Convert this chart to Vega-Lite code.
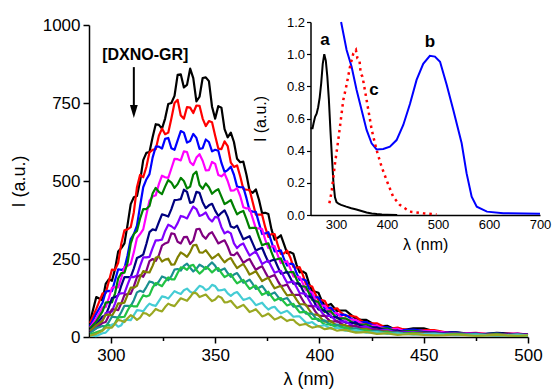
{
  "$schema": "https://vega.github.io/schema/vega-lite/v6.json",
  "width": 439,
  "height": 312,
  "autosize": "none",
  "padding": {"left": 89, "top": 25, "right": 24, "bottom": 55},
  "background": "white",
  "config": {
    "view": {"stroke": null},
    "font": "Liberation Sans",
    "axis": {"domainColor": "black", "tickColor": "black", "labelColor": "black", "titleColor": "black", "grid": false, "labelFont": "Liberation Sans", "titleFont": "Liberation Sans", "titleFontWeight": "normal", "labelOverlap": false, "labelBound": false, "labelFlush": false}
  },
  "datasets": {
    "main": [
      {"x":290,"s1":50,"s2":45,"s3":35,"s4":30,"s5":28,"s6":22,"s7":18,"s8":15,"s9":20,"s10":12,"s11":8,"s12":5,"s13":4},
      {"x":293,"s1":128,"s2":90,"s3":75,"s4":60,"s5":50,"s6":40,"s7":32,"s8":28,"s9":38,"s10":28,"s11":15,"s12":3,"s13":10},
      {"x":296,"s1":118,"s2":140,"s3":110,"s4":95,"s5":82,"s6":66,"s7":55,"s8":45,"s9":52,"s10":35,"s11":22,"s12":12,"s13":20},
      {"x":297.5,"s1":170,"s2":140,"s3":145,"s4":96,"s5":110,"s6":70,"s7":77,"s8":48,"s9":71,"s10":34,"s11":36,"s12":14,"s13":30},
      {"x":299,"s1":185,"s2":178,"s3":148,"s4":125,"s5":112,"s6":95,"s7":80,"s8":68,"s9":72,"s10":48,"s11":38,"s12":25,"s13":30},
      {"x":300.5,"s1":180,"s2":216,"s3":147,"s4":158,"s5":111,"s6":125,"s7":82,"s8":89,"s9":68,"s10":65,"s11":35,"s12":40,"s13":30},
      {"x":302,"s1":218,"s2":215,"s3":182,"s4":160,"s5":140,"s6":128,"s7":108,"s8":88,"s9":85,"s10":64,"s11":45,"s12":42,"s13":43},
      {"x":303.5,"s1":274,"s2":238,"s3":217,"s4":159,"s5":188,"s6":133,"s7":137,"s8":86,"s9":108,"s10":62,"s11":63,"s12":33,"s13":55},
      {"x":305,"s1":285,"s2":300,"s3":215,"s4":190,"s5":205,"s6":165,"s7":140,"s8":108,"s9":108,"s10":80,"s11":64,"s12":38,"s13":52},
      {"x":306.5,"s1":300,"s2":342,"s3":220,"s4":225,"s5":206,"s6":192,"s7":141,"s8":135,"s9":110,"s10":100,"s11":65,"s12":55,"s13":48},
      {"x":308,"s1":360,"s2":345,"s3":262,"s4":228,"s5":238,"s6":192,"s7":168,"s8":138,"s9":135,"s10":100,"s11":85,"s12":55,"s13":60},
      {"x":309.5,"s1":426,"s2":352,"s3":314,"s4":234,"s5":299,"s6":192,"s7":193,"s8":138,"s9":158,"s10":99,"s11":102,"s12":54,"s13":70},
      {"x":311,"s1":448,"s2":400,"s3":330,"s4":272,"s5":330,"s6":220,"s7":192,"s8":162,"s9":158,"s10":118,"s11":98,"s12":70,"s13":64},
      {"x":312.5,"s1":452,"s2":480,"s3":357,"s4":317,"s5":340,"s6":253,"s7":197,"s8":192,"s9":164,"s10":143,"s11":98,"s12":86,"s13":55},
      {"x":314,"s1":500,"s2":520,"s3":420,"s4":330,"s5":380,"s6":258,"s7":228,"s8":198,"s9":192,"s10":148,"s11":117,"s12":85,"s13":62},
      {"x":315.5,"s1":567,"s2":512,"s3":480,"s4":345,"s5":410,"s6":264,"s7":255,"s8":193,"s9":211,"s10":144,"s11":134,"s12":82,"s13":77},
      {"x":317,"s1":590,"s2":545,"s3":505,"s4":392,"s5":410,"s6":298,"s7":255,"s8":212,"s9":208,"s10":160,"s11":130,"s12":96,"s13":75},
      {"x":318.5,"s1":593,"s2":592,"s3":522,"s4":437,"s5":420,"s6":336,"s7":257,"s8":243,"s9":207,"s10":178,"s11":134,"s12":107,"s13":68},
      {"x":320,"s1":640,"s2":600,"s3":575,"s4":450,"s5":460,"s6":345,"s7":285,"s8":250,"s9":228,"s10":175,"s11":158,"s12":102,"s13":78},
      {"x":321.5,"s1":682,"s2":602,"s3":610,"s4":454,"s5":478,"s6":342,"s7":310,"s8":244,"s9":254,"s10":166,"s11":173,"s12":100,"s13":90},
      {"x":323,"s1":680,"s2":645,"s3":610,"s4":490,"s5":465,"s6":368,"s7":310,"s8":262,"s9":258,"s10":178,"s11":168,"s12":115,"s13":85},
      {"x":324.5,"s1":668,"s2":668,"s3":604,"s4":517,"s5":458,"s6":393,"s7":312,"s8":293,"s9":242,"s10":194,"s11":163,"s12":130,"s13":82},
      {"x":326,"s1":700,"s2":650,"s3":635,"s4":512,"s5":482,"s6":390,"s7":340,"s8":300,"s9":248,"s10":190,"s11":178,"s12":128,"s13":96},
      {"x":327.5,"s1":747,"s2":655,"s3":638,"s4":510,"s5":503,"s6":386,"s7":360,"s8":304,"s9":251,"s10":182,"s11":191,"s12":123,"s13":107},
      {"x":329,"s1":750,"s2":700,"s3":605,"s4":540,"s5":495,"s6":410,"s7":355,"s8":332,"s9":232,"s10":195,"s11":185,"s12":135,"s13":102},
      {"x":330.5,"s1":773,"s2":750,"s3":600,"s4":571,"s5":478,"s6":439,"s7":347,"s8":330,"s9":233,"s10":216,"s11":185,"s12":147,"s13":99},
      {"x":332,"s1":840,"s2":760,"s3":630,"s4":570,"s5":490,"s6":440,"s7":365,"s8":305,"s9":255,"s10":218,"s11":205,"s12":142,"s13":112},
      {"x":333.5,"s1":842,"s2":710,"s3":660,"s4":566,"s5":510,"s6":442,"s7":388,"s8":300,"s9":271,"s10":213,"s11":223,"s12":138,"s13":124},
      {"x":335,"s1":800,"s2":700,"s3":655,"s4":595,"s5":500,"s6":472,"s7":385,"s8":320,"s9":265,"s10":228,"s11":222,"s12":150,"s13":120},
      {"x":336.5,"s1":808,"s2":737,"s3":623,"s4":593,"s5":476,"s6":465,"s7":380,"s8":321,"s9":257,"s10":235,"s11":215,"s12":155,"s13":116},
      {"x":338,"s1":860,"s2":735,"s3":628,"s4":560,"s5":482,"s6":430,"s7":400,"s8":298,"s9":272,"s10":222,"s11":228,"s12":145,"s13":128},
      {"x":339.5,"s1":830,"s2":718,"s3":651,"s4":551,"s5":521,"s6":433,"s7":418,"s8":309,"s9":294,"s10":210,"s11":231,"s12":140,"s13":142},
      {"x":341,"s1":755,"s2":742,"s3":638,"s4":575,"s5":530,"s6":465,"s7":410,"s8":345,"s9":295,"s10":218,"s11":215,"s12":152,"s13":140},
      {"x":342.5,"s1":770,"s2":741,"s3":603,"s4":586,"s5":487,"s6":462,"s7":388,"s8":347,"s9":271,"s10":232,"s11":203,"s12":164,"s13":128},
      {"x":344,"s1":830,"s2":700,"s3":605,"s4":565,"s5":475,"s6":432,"s7":392,"s8":325,"s9":270,"s10":226,"s11":212,"s12":160,"s13":132},
      {"x":345.5,"s1":832,"s2":676,"s3":633,"s4":534,"s5":492,"s6":413,"s7":399,"s8":315,"s9":278,"s10":218,"s11":225,"s12":150,"s13":136},
      {"x":347,"s1":820,"s2":692,"s3":625,"s4":535,"s5":480,"s6":422,"s7":380,"s8":330,"s9":265,"s10":230,"s11":218,"s12":155,"s13":125},
      {"x":348.5,"s1":738,"s2":688,"s3":595,"s4":561,"s5":459,"s6":427,"s7":370,"s8":336,"s9":251,"s10":239,"s11":207,"s12":167,"s13":115},
      {"x":350,"s1":700,"s2":645,"s3":600,"s4":555,"s5":468,"s6":405,"s7":385,"s8":318,"s9":258,"s10":228,"s11":216,"s12":163,"s13":120},
      {"x":351.5,"s1":740,"s2":604,"s3":597,"s4":519,"s5":474,"s6":388,"s7":382,"s8":300,"s9":266,"s10":212,"s11":221,"s12":149,"s13":131},
      {"x":353,"s1":735,"s2":602,"s3":558,"s4":515,"s5":450,"s6":398,"s7":352,"s8":305,"s9":252,"s10":215,"s11":205,"s12":150,"s13":126},
      {"x":354.5,"s1":666,"s2":627,"s3":529,"s4":524,"s5":426,"s6":406,"s7":332,"s8":310,"s9":239,"s10":220,"s11":192,"s12":153,"s13":111},
      {"x":356,"s1":640,"s2":612,"s3":535,"s4":500,"s5":432,"s6":385,"s7":338,"s8":290,"s9":248,"s10":205,"s11":198,"s12":140,"s13":112},
      {"x":357.5,"s1":655,"s2":559,"s3":546,"s4":469,"s5":439,"s6":354,"s7":332,"s8":264,"s9":253,"s10":193,"s11":202,"s12":132,"s13":116},
      {"x":359,"s1":625,"s2":545,"s3":520,"s4":470,"s5":415,"s6":350,"s7":300,"s8":262,"s9":236,"s10":200,"s11":185,"s12":140,"s13":104},
      {"x":360.5,"s1":571,"s2":550,"s3":482,"s4":477,"s5":393,"s6":357,"s7":285,"s8":271,"s9":221,"s10":205,"s11":172,"s12":144,"s13":93},
      {"x":362,"s1":560,"s2":515,"s3":480,"s4":452,"s5":400,"s6":335,"s7":295,"s8":255,"s9":228,"s10":190,"s11":178,"s12":132,"s13":98},
      {"x":363.5,"s1":562,"s2":474,"s3":480,"s4":416,"s5":404,"s6":313,"s7":300,"s8":238,"s9":234,"s10":174,"s11":183,"s12":119,"s13":103},
      {"x":365,"s1":520,"s2":472,"s3":445,"s4":412,"s5":378,"s6":318,"s7":280,"s8":245,"s9":218,"s10":178,"s11":168,"s12":122,"s13":92},
      {"x":366.5,"s1":469,"s2":472,"s3":405,"s4":412,"s5":349,"s6":323,"s7":261,"s8":250,"s9":200,"s10":184,"s11":154,"s12":126,"s13":80},
      {"x":368,"s1":462,"s2":432,"s3":402,"s4":380,"s5":350,"s6":300,"s7":268,"s8":232,"s9":205,"s10":170,"s11":160,"s12":115,"s13":84},
      {"x":369.5,"s1":473,"s2":392,"s3":401,"s4":348,"s5":350,"s6":277,"s7":274,"s8":215,"s9":211,"s10":154,"s11":165,"s12":102,"s13":89},
      {"x":371,"s1":440,"s2":392,"s3":365,"s4":348,"s5":320,"s6":282,"s7":255,"s8":222,"s9":195,"s10":158,"s11":150,"s12":106,"s13":78},
      {"x":372.5,"s1":397,"s2":392,"s3":330,"s4":346,"s5":294,"s6":286,"s7":234,"s8":227,"s9":179,"s10":164,"s11":135,"s12":110,"s13":66},
      {"x":374,"s1":398,"s2":352,"s3":332,"s4":312,"s5":298,"s6":262,"s7":240,"s8":208,"s9":185,"s10":150,"s11":140,"s12":98,"s13":70},
      {"x":375.5,"s1":394,"s2":321,"s3":336,"s4":285,"s5":300,"s6":240,"s7":245,"s8":190,"s9":190,"s10":134,"s11":145,"s12":88,"s13":75},
      {"x":377,"s1":345,"s2":330,"s3":305,"s4":290,"s5":272,"s6":245,"s7":225,"s8":195,"s9":172,"s10":138,"s11":130,"s12":94,"s13":66},
      {"x":378.5,"s1":312,"s2":330,"s3":274,"s4":291,"s5":247,"s6":248,"s7":206,"s8":199,"s9":156,"s10":143,"s11":117,"s12":97,"s13":56},
      {"x":380,"s1":318,"s2":295,"s3":275,"s4":262,"s5":250,"s6":225,"s7":210,"s8":180,"s9":160,"s10":130,"s11":122,"s12":85,"s13":60},
      {"x":381.5,"s1":326,"s2":266,"s3":278,"s4":237,"s5":252,"s6":203,"s7":212,"s8":163,"s9":164,"s10":118,"s11":125,"s12":76,"s13":65},
      {"x":383,"s1":298,"s2":268,"s3":250,"s4":240,"s5":228,"s6":205,"s7":192,"s8":165,"s9":148,"s10":122,"s11":112,"s12":80,"s13":58},
      {"x":384.5,"s1":269,"s2":277,"s3":229,"s4":243,"s5":206,"s6":209,"s7":174,"s8":168,"s9":133,"s10":125,"s11":101,"s12":84,"s13":51},
      {"x":386,"s1":272,"s2":255,"s3":235,"s4":220,"s5":208,"s6":190,"s7":176,"s8":150,"s9":135,"s10":112,"s11":105,"s12":75,"s13":55},
      {"x":387.5,"s1":267,"s2":225,"s3":233,"s4":194,"s5":208,"s6":171,"s7":178,"s8":134,"s9":136,"s10":97,"s11":106,"s12":65,"s13":55},
      {"x":389,"s1":232,"s2":222,"s3":205,"s4":192,"s5":185,"s6":172,"s7":160,"s8":135,"s9":120,"s10":98,"s11":92,"s12":66,"s13":45},
      {"x":390.5,"s1":207,"s2":224,"s3":183,"s4":193,"s5":164,"s6":171,"s7":141,"s8":135,"s9":105,"s10":100,"s11":79,"s12":66,"s13":38},
      {"x":392,"s1":210,"s2":200,"s3":185,"s4":172,"s5":162,"s6":150,"s7":140,"s8":118,"s9":105,"s10":88,"s11":80,"s12":56,"s13":40},
      {"x":393.5,"s1":204,"s2":170,"s3":181,"s4":150,"s5":161,"s6":131,"s7":138,"s8":101,"s9":104,"s10":75,"s11":81,"s12":46,"s13":42},
      {"x":395,"s1":172,"s2":165,"s3":155,"s4":148,"s5":140,"s6":130,"s7":118,"s8":100,"s9":88,"s10":75,"s11":70,"s12":45,"s13":35},
      {"x":396.5,"s1":148,"s2":162,"s3":132,"s4":143,"s5":119,"s6":126,"s7":100,"s8":98,"s9":73,"s10":75,"s11":58,"s12":48,"s13":30},
      {"x":398,"s1":145,"s2":138,"s3":128,"s4":120,"s5":115,"s6":105,"s7":98,"s8":82,"s9":72,"s10":62,"s11":58,"s12":40,"s13":32},
      {"x":399.5,"s1":142,"s2":119,"s3":127,"s4":102,"s5":112,"s6":88,"s7":96,"s8":69,"s9":71,"s10":52,"s11":58,"s12":34,"s13":35},
      {"x":401,"s1":118,"s2":118,"s3":108,"s4":100,"s5":92,"s6":85,"s7":80,"s8":68,"s9":58,"s10":52,"s11":48,"s12":36,"s13":30},
      {"x":402.5,"s1":101,"s2":116,"s3":92,"s4":101,"s5":80,"s6":86,"s7":68,"s8":68,"s9":49,"s10":53,"s11":40,"s12":38,"s13":25},
      {"x":404,"s1":102,"s2":98,"s3":92,"s4":88,"s5":82,"s6":75,"s7":68,"s8":58,"s9":50,"s10":45,"s11":40,"s12":32,"s13":27},
      {"x":405.5,"s1":106,"s2":87,"s3":94,"s4":75,"s5":82,"s6":64,"s7":68,"s8":49,"s9":51,"s10":38,"s11":41,"s12":27,"s13":29},
      {"x":407,"s1":94,"s2":90,"s3":82,"s4":76,"s5":70,"s6":64,"s7":58,"s8":50,"s9":43,"s10":38,"s11":35,"s12":28,"s13":24},
      {"x":408.5,"s1":83,"s2":92,"s3":71,"s4":77,"s5":60,"s6":64,"s7":49,"s8":51,"s9":37,"s10":40,"s11":30,"s12":30,"s13":20},
      {"x":410,"s1":85,"s2":80,"s3":72,"s4":66,"s5":60,"s6":55,"s7":50,"s8":44,"s9":38,"s10":34,"s11":30,"s12":26,"s13":22},
      {"x":412.5,"s1":85,"s2":68,"s3":71,"s4":56,"s5":60,"s6":46,"s7":49,"s8":36,"s9":38,"s10":28,"s11":30,"s12":20,"s13":23},
      {"x":415,"s1":72,"s2":68,"s3":60,"s4":56,"s5":50,"s6":45,"s7":40,"s8":35,"s9":30,"s10":27,"s11":24,"s12":20,"s13":18},
      {"x":417.5,"s1":58,"s2":65,"s3":49,"s4":55,"s5":41,"s6":45,"s7":32,"s8":36,"s9":24,"s10":28,"s11":19,"s12":22,"s13":14},
      {"x":420,"s1":55,"s2":52,"s3":47,"s4":44,"s5":40,"s6":36,"s7":32,"s8":28,"s9":25,"s10":22,"s11":20,"s12":18,"s13":15},
      {"x":422.5,"s1":55,"s2":43,"s3":48,"s4":36,"s5":40,"s6":30,"s7":33,"s8":23,"s9":26,"s10":18,"s11":21,"s12":14,"s13":16},
      {"x":425,"s1":45,"s2":44,"s3":40,"s4":36,"s5":33,"s6":30,"s7":27,"s8":24,"s9":21,"s10":19,"s11":17,"s12":15,"s13":13},
      {"x":427.5,"s1":36,"s2":44,"s3":32,"s4":37,"s5":27,"s6":31,"s7":22,"s8":25,"s9":17,"s10":20,"s11":13,"s12":16,"s13":10},
      {"x":430,"s1":35,"s2":36,"s3":32,"s4":30,"s5":27,"s6":25,"s7":22,"s8":19,"s9":17,"s10":16,"s11":14,"s12":13,"s13":11},
      {"x":432.5,"s1":36,"s2":28,"s3":32,"s4":24,"s5":28,"s6":20,"s7":23,"s8":15,"s9":18,"s10":13,"s11":15,"s12":10,"s13":12},
      {"x":435,"s1":28,"s2":28,"s3":26,"s4":25,"s5":22,"s6":20,"s7":18,"s8":16,"s9":14,"s10":14,"s11":12,"s12":11,"s13":9},
      {"x":437.5,"s1":22,"s2":30,"s3":21,"s4":26,"s5":17,"s6":21,"s7":14,"s8":17,"s9":11,"s10":15,"s11":9,"s12":12,"s13":7},
      {"x":440,"s1":22,"s2":25,"s3":22,"s4":20,"s5":18,"s6":17,"s7":15,"s8":13,"s9":12,"s10":12,"s11":10,"s12":10,"s13":8},
      {"x":445,"s1":28,"s2":20,"s3":24,"s4":16,"s5":20,"s6":13,"s7":16,"s8":11,"s9":13,"s10":9,"s11":12,"s12":8,"s13":10},
      {"x":450,"s1":28,"s2":22,"s3":20,"s4":18,"s5":16,"s6":14,"s7":13,"s8":12,"s9":11,"s10":10,"s11":9,"s12":9,"s13":7},
      {"x":455,"s1":18,"s2":22,"s3":14,"s4":19,"s5":12,"s6":15,"s7":10,"s8":13,"s9":8,"s10":12,"s11":7,"s12":10,"s13":5},
      {"x":460,"s1":15,"s2":16,"s3":14,"s4":14,"s5":12,"s6":12,"s7":11,"s8":10,"s9":9,"s10":9,"s11":8,"s12":8,"s13":6},
      {"x":465,"s1":16,"s2":11,"s3":15,"s4":11,"s5":13,"s6":9,"s7":12,"s8":7,"s9":10,"s10":7,"s11":9,"s12":6,"s13":8},
      {"x":470,"s1":12,"s2":12,"s3":11,"s4":12,"s5":10,"s6":10,"s7":9,"s8":8,"s9":8,"s10":8,"s11":7,"s12":7,"s13":6},
      {"x":475,"s1":9,"s2":13,"s3":8,"s4":12,"s5":8,"s6":11,"s7":7,"s8":10,"s9":6,"s10":10,"s11":5,"s12":8,"s13":4},
      {"x":480,"s1":10,"s2":10,"s3":10,"s4":9,"s5":9,"s6":8,"s7":8,"s8":7,"s9":7,"s10":7,"s11":6,"s12":6,"s13":5},
      {"x":485,"s1":13,"s2":8,"s3":12,"s4":8,"s5":11,"s6":6,"s7":10,"s8":5,"s9":9,"s10":5,"s11":8,"s12":4,"s13":7},
      {"x":490,"s1":12,"s2":10,"s3":9,"s4":10,"s5":8,"s6":8,"s7":7,"s8":7,"s9":6,"s10":6,"s11":6,"s12":6,"s13":5},
      {"x":495,"s1":8,"s2":11,"s3":7,"s4":11,"s5":6,"s6":10,"s7":5,"s8":9,"s9":4,"s10":8,"s11":4,"s12":8,"s13":4},
      {"x":500,"s1":8,"s2":8,"s3":8,"s4":8,"s5":7,"s6":7,"s7":6,"s8":6,"s9":6,"s10":5,"s11":5,"s12":5,"s13":5}
    ],
    "inset": [
      {"c":"a","x":250,"y":0.54},{"c":"a","x":254,"y":0.54},{"c":"a","x":256,"y":0.57},{"c":"a","x":259,"y":0.61},{"c":"a","x":262,"y":0.63},{"c":"a","x":265,"y":0.67},{"c":"a","x":268,"y":0.73},{"c":"a","x":271,"y":0.82},{"c":"a","x":274,"y":0.94},{"c":"a","x":277,"y":1.0},{"c":"a","x":280,"y":0.96},{"c":"a","x":283,"y":0.86},{"c":"a","x":286,"y":0.72},{"c":"a","x":289,"y":0.53},{"c":"a","x":292,"y":0.36},{"c":"a","x":295,"y":0.2},{"c":"a","x":298,"y":0.11},{"c":"a","x":301,"y":0.08},{"c":"a","x":305,"y":0.07},{"c":"a","x":310,"y":0.063},{"c":"a","x":320,"y":0.052},{"c":"a","x":330,"y":0.042},{"c":"a","x":340,"y":0.034},{"c":"a","x":350,"y":0.025},{"c":"a","x":360,"y":0.016},{"c":"a","x":370,"y":0.01},{"c":"a","x":380,"y":0.006},{"c":"a","x":390,"y":0.003},{"c":"a","x":400,"y":0.002},{"c":"a","x":420,"y":0.0},
      {"c":"b","x":310,"y":1.2},{"c":"b","x":320.8,"y":1.026},{"c":"b","x":330.6,"y":0.922},{"c":"b","x":340.4,"y":0.777},{"c":"b","x":350.2,"y":0.653},{"c":"b","x":360,"y":0.529},{"c":"b","x":369.8,"y":0.446},{"c":"b","x":379.6,"y":0.408},{"c":"b","x":392.7,"y":0.41},{"c":"b","x":405.7,"y":0.425},{"c":"b","x":418.8,"y":0.466},{"c":"b","x":431.9,"y":0.56},{"c":"b","x":445,"y":0.69},{"c":"b","x":458,"y":0.84},{"c":"b","x":471,"y":0.94},{"c":"b","x":484,"y":0.99},{"c":"b","x":494,"y":0.985},{"c":"b","x":504,"y":0.953},{"c":"b","x":517,"y":0.81},{"c":"b","x":530,"y":0.653},{"c":"b","x":546.4,"y":0.446},{"c":"b","x":556,"y":0.26},{"c":"b","x":566,"y":0.114},{"c":"b","x":576,"y":0.052},{"c":"b","x":596,"y":0.021},{"c":"b","x":628,"y":0.011},{"c":"b","x":700,"y":0.007},
      {"c":"c","x":287,"y":0.073},{"c":"c","x":291.4,"y":0.145},{"c":"c","x":298,"y":0.32},{"c":"c","x":304.5,"y":0.467},{"c":"c","x":314.3,"y":0.715},{"c":"c","x":320.8,"y":0.81},{"c":"c","x":327.5,"y":0.922},{"c":"c","x":334,"y":1.005},{"c":"c","x":339,"y":1.026},{"c":"c","x":342,"y":0.974},{"c":"c","x":346,"y":0.963},{"c":"c","x":348.4,"y":0.88},{"c":"c","x":352,"y":0.86},{"c":"c","x":357,"y":0.77},{"c":"c","x":363.4,"y":0.653},{"c":"c","x":370,"y":0.53},{"c":"c","x":379.6,"y":0.404},{"c":"c","x":389.4,"y":0.3},{"c":"c","x":399,"y":0.218},{"c":"c","x":412,"y":0.114},{"c":"c","x":425,"y":0.063},{"c":"c","x":445,"y":0.021},{"c":"c","x":471,"y":0.011},{"c":"c","x":497,"y":0.004}
    ]
  },
  "layer": [
    {
      "layer": [
        {
          "data": {"name": "main"},
          "transform": [{"fold": ["s1","s2","s3","s4","s5","s6","s7","s8","s9","s10","s11","s12","s13"], "as": ["k","v"]}],
          "mark": {"type": "line", "strokeWidth": 2.2, "strokeJoin": "round"},
          "encoding": {
            "x": {"field": "x", "type": "quantitative", "scale": {"domain": [289.5, 500], "nice": false, "zero": false},
              "axis": {"title": "λ (nm)", "values": [300,325,350,375,400,425,450,475,500], "format": "d",
                "labelExpr": "datum.value % 50 === 0 ? datum.label : ''",
                "tickSize": {"condition": {"test": "datum.value % 50 !== 0", "value": 3.5}, "value": 6},
                "tickWidth": 1.5, "domainWidth": 1.5, "labelFontSize": 17, "titleFontSize": 18, "labelPadding": 4, "titlePadding": 7}},
            "y": {"field": "v", "type": "quantitative", "scale": {"domain": [0, 1000], "nice": false},
              "axis": {"title": "I (a.u.)", "values": [0,125,250,375,500,625,750,875,1000], "format": "d",
                "labelExpr": "datum.value % 250 === 0 ? datum.label : ''",
                "tickSize": {"condition": {"test": "datum.value % 250 !== 0", "value": 3.5}, "value": 6},
                "tickWidth": 1.5, "domainWidth": 1.5, "labelFontSize": 17, "titleFontSize": 18, "labelPadding": 3, "titlePadding": 14}},
            "color": {"field": "k", "type": "nominal", "legend": null,
              "scale": {"domain": ["s1","s2","s3","s4","s5","s6","s7","s8","s9","s10","s11","s12","s13"],
                "range": ["#000000","#ff0000","#0000ff","#ff00ff","#008000","#000080","#8000ff","#800080","#808000","#1a9090","#22c244","#44ccd4","#9aa822"]}}
          }
        },
        {
          "data": {"values": [{"x": 311, "y": 865, "y2": 730}]},
          "mark": {"type": "rule", "strokeWidth": 2, "color": "black"},
          "encoding": {"x": {"field": "x", "type": "quantitative"}, "y": {"field": "y", "type": "quantitative"}, "y2": {"field": "y2"}}
        },
        {
          "data": {"values": [{"x": 311, "y": 723}]},
          "mark": {"type": "point", "shape": "M-0.6,-1L0.6,-1L0,1Z", "size": 169, "filled": true, "color": "black", "opacity": 1},
          "encoding": {"x": {"field": "x", "type": "quantitative"}, "y": {"field": "y", "type": "quantitative"}}
        },
        {
          "data": {"values": [{"x": 316.5, "y": 888, "t": "[DXNO-GR]"}]},
          "mark": {"type": "text", "fontSize": 16, "fontWeight": "bold", "align": "center", "baseline": "alphabetic", "color": "black"},
          "encoding": {"x": {"field": "x", "type": "quantitative"}, "y": {"field": "y", "type": "quantitative"}, "text": {"field": "t"}}
        }
      ]
    },
    {
      "layer": [
        {
          "data": {"name": "inset"},
          "transform": [{"filter": "datum.c === 'a'"}],
          "mark": {"type": "line", "strokeWidth": 2, "color": "black"},
          "encoding": {
            "x": {"field": "x", "type": "quantitative", "scale": {"domain": [250, 700], "range": [221.5, 451], "nice": false, "zero": false},
              "axis": {"orient": "bottom", "offset": -122, "title": "λ (nm)", "values": [300,400,500,600,700], "format": "d", "ticks": false,
                "domainWidth": 1.5, "labelFontSize": 13, "titleFontSize": 16, "labelPadding": 3, "titleY": 21, "titleBaseline": "top"}},
            "y": {"field": "y", "type": "quantitative", "scale": {"domain": [0, 1.2], "range": [190, -3], "nice": false},
              "axis": {"orient": "left", "offset": -221.5, "title": "I (a.u.)", "values": [0,0.1,0.2,0.3,0.4,0.5,0.6,0.7,0.8,0.9,1.0,1.1,1.2], "format": ".1f",
                "labelExpr": "round(datum.value * 10) % 2 === 0 ? datum.label : ''",
                "tickSize": {"condition": {"test": "round(datum.value * 10) % 2 !== 0", "value": 2}, "value": 4},
                "tickWidth": 1.2, "domainWidth": 1.5, "labelFontSize": 13, "titleFontSize": 16, "labelPadding": 2, "titlePadding": 18}}
          }
        },
        {
          "data": {"name": "inset"},
          "transform": [{"filter": "datum.c === 'b'"}],
          "mark": {"type": "line", "strokeWidth": 2, "color": "#0000ff"},
          "encoding": {"x": {"field": "x", "type": "quantitative"}, "y": {"field": "y", "type": "quantitative"}}
        },
        {
          "data": {"name": "inset"},
          "transform": [{"filter": "datum.c === 'c'"}],
          "mark": {"type": "line", "strokeWidth": 2.5, "color": "#ff0000", "strokeDash": [2.5, 4]},
          "encoding": {"x": {"field": "x", "type": "quantitative"}, "y": {"field": "y", "type": "quantitative"}}
        },
        {
          "data": {"values": [{"x": 278.4, "y": 1.057, "t": "a"}, {"x": 484, "y": 1.047, "t": "b"}, {"x": 374.5, "y": 0.746, "t": "c"}]},
          "mark": {"type": "text", "fontSize": 17, "fontWeight": "bold", "align": "center", "baseline": "alphabetic", "color": "black"},
          "encoding": {"x": {"field": "x", "type": "quantitative"}, "y": {"field": "y", "type": "quantitative"}, "text": {"field": "t"}}
        }
      ]
    }
  ],
  "resolve": {"scale": {"x": "independent", "y": "independent"}}
}
